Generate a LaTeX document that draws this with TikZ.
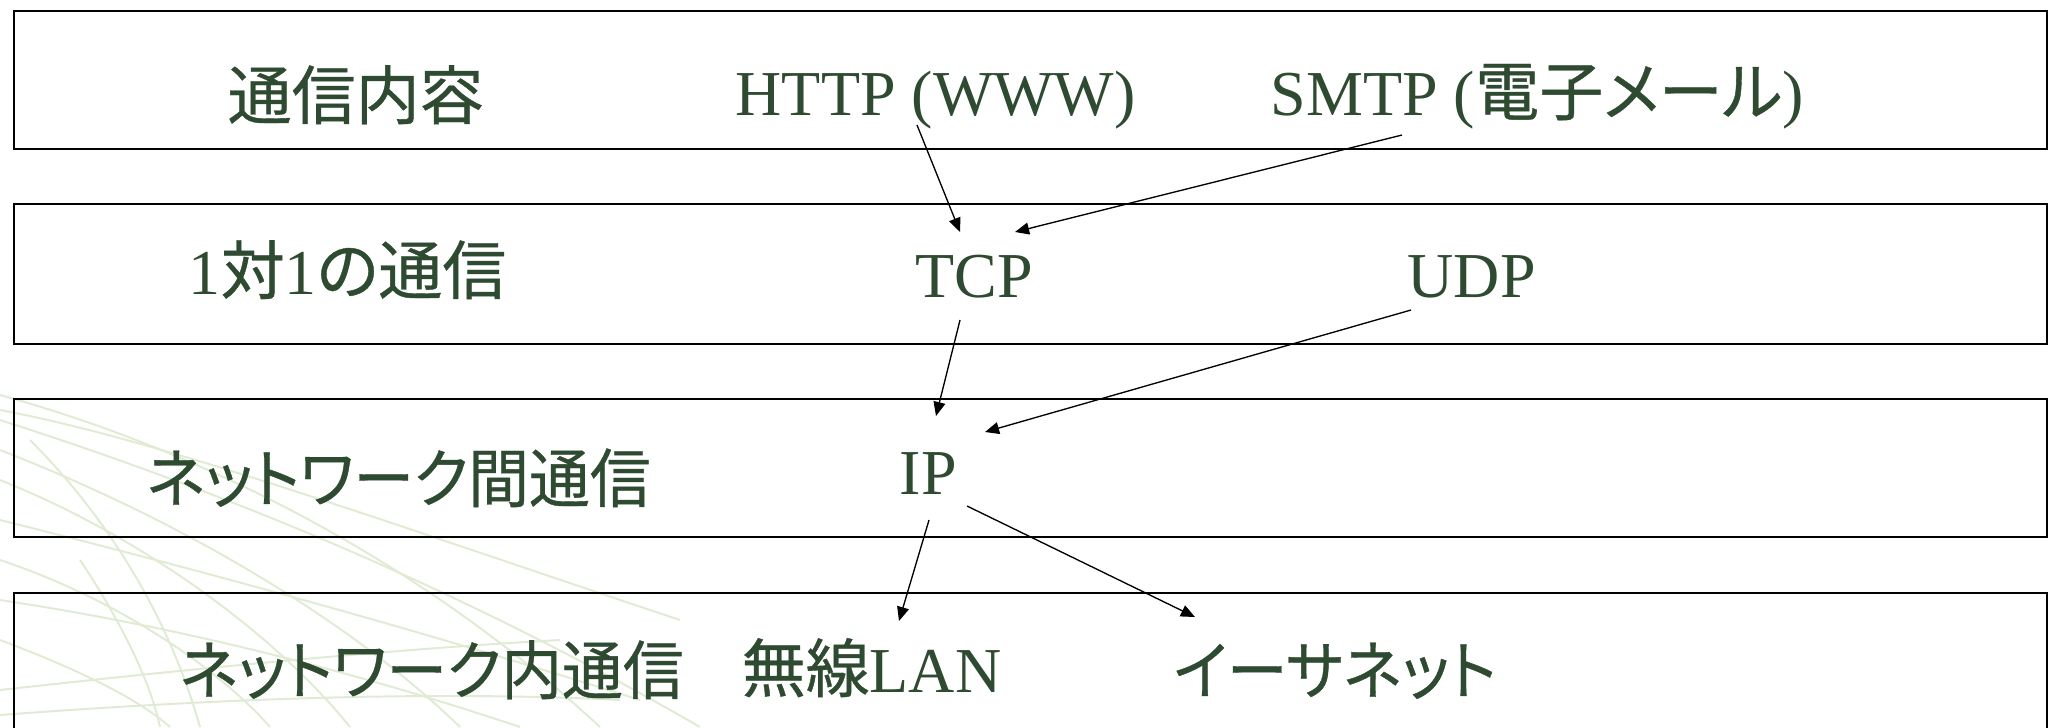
\documentclass[tikz,border=0pt]{standalone}
\usepackage{fontspec}
\setmainfont{Liberation Serif}
\newfontfamily\jpfont[RawFeature=+palt,FakeBold=0.6]{Noto Sans CJK JP}
\newcommand{\jp}[1]{{\jpfont #1}}
\newcommand{\narrowjp}[1]{\scalebox{0.95}[1]{\jpfont #1}}
\usetikzlibrary{arrows.meta,calc}
\definecolor{txtgreen}{RGB}{46,74,48}
\definecolor{decogreen}{RGB}{224,235,212}
\begin{document}
\begin{tikzpicture}[x=0.01cm,y=-0.01cm,
  layerbox/.style={draw=black, line width=0.45pt, inner sep=0pt, anchor=north west, minimum width=20.32cm},
  lbl/.style={text=txtgreen, font=\fontsize{18.2pt}{22pt}\selectfont, inner sep=0pt, anchor=base west},
  conn/.style={line width=0.38pt, -{Triangle[length=4pt,width=3.4pt]}},
  deco/.style={decogreen, line width=0.55pt}]
\clip (0,0) rectangle (2049,727);
\fill[white] (0,0) rectangle (2049,727);
% background decoration
\draw[deco] (0,395) .. controls (200,450) and (420,560) .. (600,727);
\draw[deco] (0,420) .. controls (250,500) and (480,600) .. (700,727);
\draw[deco] (0,450) .. controls (180,520) and (350,620) .. (460,727);
\draw[deco] (0,480) .. controls (150,540) and (280,640) .. (350,727);
\draw[deco] (0,520) .. controls (200,570) and (420,630) .. (640,700);
\draw[deco] (0,560) .. controls (120,600) and (220,670) .. (270,727);
\draw[deco] (0,600) .. controls (200,630) and (380,680) .. (520,727);
\draw[deco] (0,640) .. controls (80,670) and (140,700) .. (170,727);
\draw[deco] (30,440) .. controls (110,520) and (170,620) .. (200,727);
\draw[deco] (80,560) .. controls (120,620) and (150,680) .. (160,727);
\draw[deco] (0,690) .. controls (180,670) and (380,650) .. (560,640);
\draw[deco] (0,715) .. controls (200,700) and (420,690) .. (620,700);
\draw[deco] (0,410) .. controls (160,440) and (380,520) .. (680,620);
% layer boxes
\node[layerbox, minimum height=1.38cm] (L1) at (13,10) {};
\node[layerbox, minimum height=1.40cm] (L2) at (13,203) {};
\node[layerbox, minimum height=1.38cm] (L3) at (13,398) {};
\node[layerbox, minimum height=1.60cm] (L4) at (13,592) {};
% labels
\node[lbl] (t1) at (227,119) {\jp{通信内容}};
\node[lbl] (http) at (735,115) {HTTP (WWW)};
\node[lbl] (smtp) at (1270,115) {SMTP (\jp{電子メール})};
\node[lbl] (t2) at (188,294) {1\jp{対}1\jp{の通信}};
\node[lbl] (tcp) at (915,297) {TCP};
\node[lbl] (udp) at (1407,297) {UDP};
\node[lbl] (t3) at (146,502) {\narrowjp{ネットワーク間通信}};
\node[lbl] (ip) at (899,494) {IP};
\node[lbl] (t4) at (179,694) {\narrowjp{ネットワーク内通信}};
\node[lbl] (wlan) at (741,692) {\jp{無線}LAN};
\node[lbl] (ether) at (1173,694) {\narrowjp{イーサネット}};
% connectors
\draw[conn] ($(http.base west)+(182,10)$) -- ($(tcp.base west)+(45,-65)$);
\draw[conn] ($(smtp.base west)+(132,20)$) -- ($(tcp.base west)+(100,-65)$);
\draw[conn] ($(tcp.base west)+(45,23)$) -- ($(ip.base west)+(37,-78)$);
\draw[conn] ($(udp.base west)+(4,13)$) -- ($(ip.base west)+(86,-62)$);
\draw[conn] ($(ip.base west)+(30,26)$) -- ($(wlan.base west)+(158,-71)$);
\draw[conn] ($(ip.base west)+(68,12)$) -- ($(ether.base west)+(22,-77)$);
\end{tikzpicture}
\end{document}
